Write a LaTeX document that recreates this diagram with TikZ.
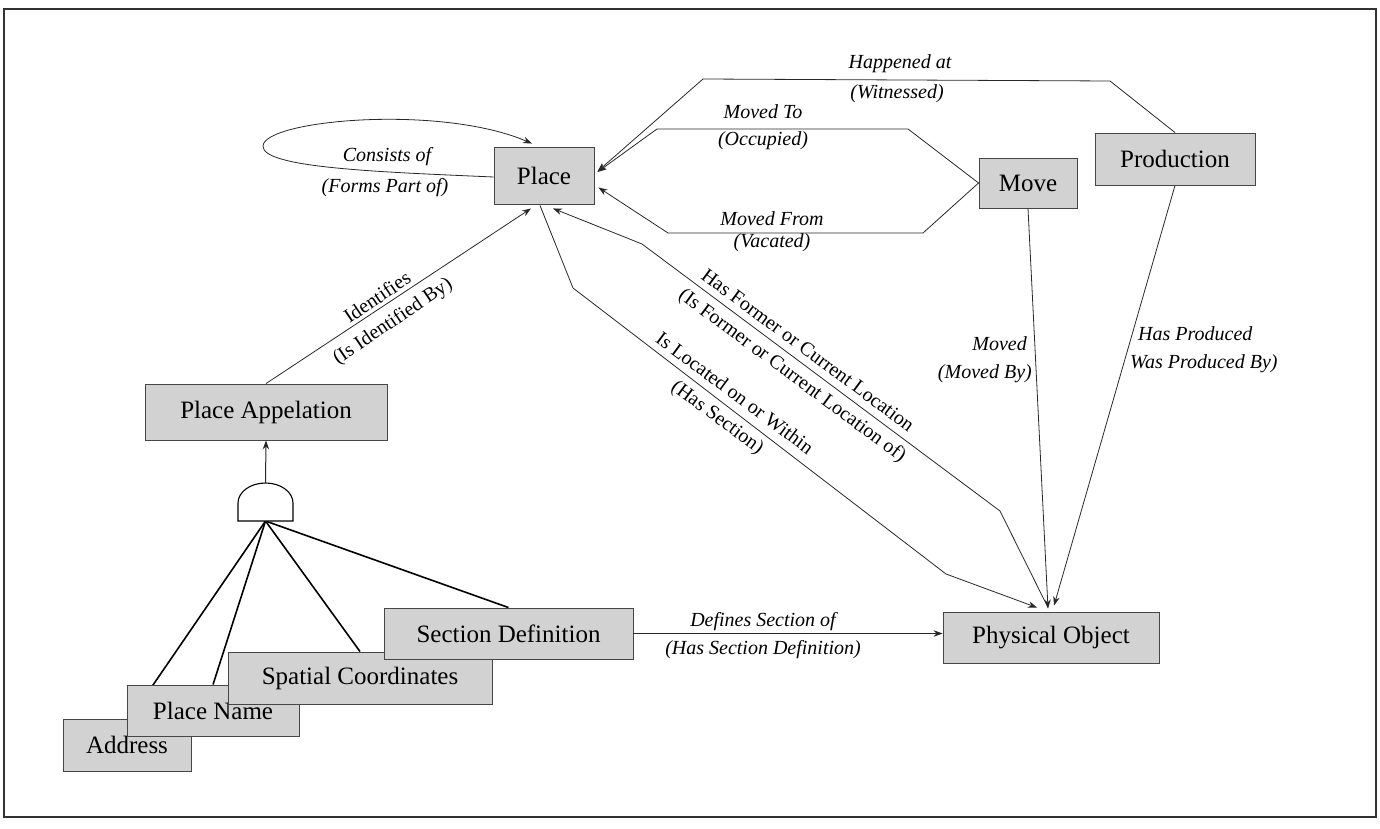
\documentclass[tikz,border=0pt]{standalone}
\usepackage{fontspec}
\setmainfont{Liberation Serif}
\usetikzlibrary{arrows.meta,calc}
\definecolor{boxfill}{RGB}{210,210,210}
\definecolor{boxedge}{RGB}{70,70,70}
\definecolor{wire}{RGB}{40,40,40}
\pgfdeclarelayer{wires}
\pgfsetlayers{wires,main}
\begin{document}
\begin{tikzpicture}[x=1pt,y=-1pt,
  entity/.style={draw=boxedge,line width=0.9pt,fill=boxfill,inner sep=0pt,
                 font=\fontsize{25}{28}\selectfont},
  rel/.style={draw=wire,line width=0.8pt},
  arr/.style={rel,-{Stealth[length=9pt,width=6.5pt]}},
  lab/.style={font=\itshape\fontsize{20}{22}\selectfont,inner sep=0pt},
  dlab/.style={font=\fontsize{20}{22}\selectfont,inner sep=0pt},
  gatewire/.style={draw=black,line width=1.6pt}]

\useasboundingbox (0,0) rectangle (1380,829);
\draw[line width=1.2pt,draw=black!80] (4,9) rectangle (1376,817);

% entities
\node[entity,minimum width=100pt,minimum height=57pt] (place) at (544,175.5) {Place};
\node[entity,minimum width=98pt,minimum height=50pt] (move) at (1028,183) {Move};
\node[entity,minimum width=160pt,minimum height=52pt] (prod) at (1175,159) {Production};
\node[entity,minimum width=242pt,minimum height=56pt] (appel) at (266,412) {Place Appelation};
\node[entity,minimum width=216pt,minimum height=51pt] (phys) at (1051,637.5) {Physical Object};

% stacked identifier boxes, each one lying over the previous one
\node[entity,minimum width=128pt,minimum height=52pt] (address) at (127,745) {Address};
\node[entity,minimum width=172pt,minimum height=51pt] (pname) at (213,710.5) {Place Name};
\node[entity,minimum width=264pt,minimum height=52pt] (spatial) at (360,678) {Spatial Coordinates};
\node[entity,minimum width=249pt,minimum height=51pt] (secdef) at (508.5,633.5) {Section Definition};

% AND gate
\coordinate (gate) at (265.5,521);
\coordinate (gatetop) at (265.5,483);
\draw[line width=1.1pt,fill=white] (238,521) -- (238,503)
  arc[start angle=180,end angle=360,x radius=27.5,y radius=20] -- (293,521) -- cycle;

\begin{pgfonlayer}{wires}
  \draw[gatewire] (gate) -- ($(address.north)+(3,0)$);
  \draw[gatewire] (gate) -- (pname.north);
  \draw[gatewire] (gate) -- (spatial.north);
  \draw[gatewire] (gate) -- (secdef.north);
\end{pgfonlayer}
\draw[arr,line width=1pt] (gatetop) -- (appel.south);

% relationships
\draw[arr] ($(place.west)+(0,1.5)$) .. controls (380,172) and (262,168) .. (263,146)
  .. controls (264,120) and (440,104) .. ($(place.north)+(-12,-3)$);
\node[lab] (lcons) at (387,157) {Consists of};
\node[lab] (lforms) at (385,188) {(Forms Part of)};

\draw[arr] (prod.north) -- (1110,81) -- (703,79) -- ($(place.east)+(3,-4)$);
\node[lab] (lhap) at (900,64) {Happened at};
\node[lab] (lwit) at (897,94) {(Witnessed)};

\draw[arr] (move.west) -- (908,129) -- (657,129) -- ($(place.east)+(3,-3.5)$);
\node[lab] (lmto) at (763,112) {Moved To};
\node[lab] (locc) at (763,141) {(Occupied)};

\draw[arr] (move.west) -- (923,233) -- (668,233) -- ($(place.east)+(4,12)$);
\node[lab] (lmfrom) at (772,219) {Moved From};
\node[lab] (lvac) at (772,243) {(Vacated)};

\draw[arr] (appel.north) -- ($(place.south)+(-13,4)$);
\node[dlab,rotate=34] (lid) at (377,297) {Identifies};
\node[dlab,rotate=34] (lisid) at (393,322) {(Is Identified By)};

\draw[arr] ($(phys.north)+(-3,-4)$) -- (1000,511) -- (642,244) -- ($(place.south)+(9,4)$);
\node[dlab,rotate=-36.5] (lhasf) at (808,350) {Has Former or Current Location};
\node[dlab,rotate=-36.5] (lisf) at (792,376) {(Is Former or Current Location of)};

\draw[arr] ($(place.south)+(-4,1)$) -- (573,288) -- (946,574) -- ($(phys.north)+(-14,-4)$);
\node[dlab,rotate=-36.5] (lloc) at (735,393) {Is Located on or Within};
\node[dlab,rotate=-36.5] (lsec) at (717,418) {(Has Section)};

\draw[arr] (move.south) -- ($(phys.north)+(-3,-3)$);
\node[lab,anchor=east] (lmoved) at (1027,344) {Moved};
\node[lab,anchor=east] (lmovedby) at (1032,374) {(Moved By)};

\draw[arr] (prod.south) -- ($(phys.north)+(3,-6)$);
\node[lab,anchor=west] (lprod) at (1138,334) {Has Produced};
\node[lab,anchor=west] (lwasprod) at (1130,364) {Was Produced By)};

\draw[arr] (secdef.east) -- (phys.west |- secdef.east);
\node[lab] (ldef) at (763,622) {Defines Section of};
\node[lab] (lhasdef) at (763,650) {(Has Section Definition)};
\end{tikzpicture}
\end{document}
